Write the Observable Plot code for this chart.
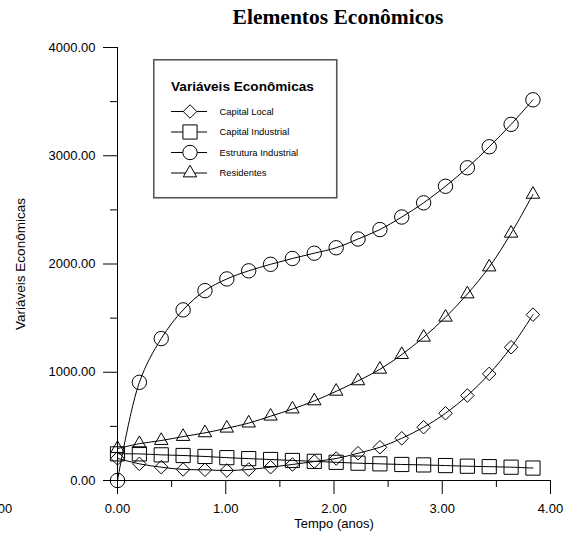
<!DOCTYPE html>
<html>
<head>
<meta charset="utf-8">
<script src="https://cdn.jsdelivr.net/npm/d3@7"></script>
<script src="https://cdn.jsdelivr.net/npm/@observablehq/plot@0.6"></script>
<style>
  body { margin: 0; background: #fff; }
  #chart { position: relative; width: 566px; height: 537px; }
  #chart svg.plot { display: block; }
  #title {
    position: absolute; left: 110px; right: 0; top: 7px;
    text-align: center; color: #000; white-space: nowrap;
    font: bold 21.5px/21.5px "Liberation Serif", "Times New Roman", serif;
  }
  #legend { position: absolute; left: 153px; top: 59px; }
</style>
</head>
<body>
<div id="chart"><div id="title"></div></div>
<script>
// Text
const chartTitle = "Elementos Econômicos";
const legendTitle = "Variáveis Econômicas";
const xLabel = "Tempo (anos)";
const yLabel = "Variáveis Econômicas";

// Series
const seriesNames = ["Capital Local", "Capital Industrial", "Estrutura Industrial", "Residentes"];
const time = [0, 0.202, 0.404, 0.606, 0.808, 1.010, 1.212, 1.414, 1.616, 1.818,
              2.020, 2.222, 2.424, 2.626, 2.828, 3.030, 3.232, 3.434, 3.636, 3.838];
const capitalLocal = [205, 154, 123, 102, 99, 92, 102, 123, 148, 175,
                      203, 252, 307, 390, 492, 621, 785, 985, 1231, 1532];
const capitalIndustrial = [246, 246, 237, 231, 222, 211, 202, 194, 185, 177,
                           168, 160, 154, 148, 144, 138, 132, 128, 123, 115];
const estruturaIndustrial = [0, 907, 1311, 1576, 1754, 1862, 1937, 1997, 2051, 2100,
                             2150, 2231, 2318, 2434, 2565, 2718, 2889, 3083, 3290, 3517];
const residentes = [295, 340, 369, 406, 440, 483, 530, 594, 660, 735,
                    824, 920, 1027, 1163, 1323, 1508, 1723, 1972, 2284, 2643];

// Ticks
const xMajorTicks = [0, 1, 2, 3, 4];
const xMinorTicks = [0.5, 1.5, 2.5, 3.5];
const xEdgeTick = -1.09;
const yMajorTicks = [0, 1000, 2000, 3000, 4000];
const yMinorTicks = [500, 1500, 2500, 3500];

// Marker shape and radius for each series
const markers = [
  {symbol: "diamond2", r: 6.1, d3type: d3.symbolDiamond2},
  {symbol: "square", r: 8.0, d3type: d3.symbolSquare},
  {symbol: "circle", r: 7.2, d3type: d3.symbolCircle},
  {symbol: "triangle2", r: 6.4, d3type: d3.symbolTriangle2}
];

const seriesValues = [capitalLocal, capitalIndustrial, estruturaIndustrial, residentes];
const rows = seriesNames.flatMap((name, k) =>
  time.map((t, i) => ({series: name, t, v: seriesValues[k][i]})));

const fmt = d3.format(".2f");
const tickFont = 13;

const marks = [
  // axis lines
  Plot.ruleX([0], {stroke: "black"}),
  Plot.ruleY([0], {stroke: "black"}),
  // y axis
  Plot.axisY(yMajorTicks, {tickSize: 14, tickPadding: 8, tickFormat: fmt, fontSize: tickFont, label: null}),
  Plot.axisY(yMinorTicks, {tickSize: 7, tickFormat: () => "", label: null}),
  // x axis
  Plot.axisX(xMajorTicks, {tickSize: 14, tickPadding: 9, tickFormat: fmt, fontSize: tickFont, label: null}),
  Plot.axisX(xMinorTicks, {tickSize: 7, tickFormat: () => "", label: null}),
  Plot.axisX([xEdgeTick], {tickSize: 0, tickPadding: 23, tickFormat: () => fmt(0), fontSize: tickFont, label: null}),
  // axis titles
  Plot.text([yLabel], {frameAnchor: "left", textAnchor: "middle", dx: -97, rotate: -90, fontSize: 13.5, fill: "black"}),
  Plot.text([xLabel], {frameAnchor: "bottom", textAnchor: "middle", dy: 47, fontSize: tickFont, fill: "black"})
];

seriesNames.forEach((name) => {
  const data = rows.filter(d => d.series === name);
  marks.push(Plot.line(data, {x: "t", y: "v", curve: "catmull-rom", stroke: "black", strokeWidth: 1}));
});
seriesNames.forEach((name, k) => {
  const data = rows.filter(d => d.series === name);
  marks.push(Plot.dot(data, {x: "t", y: "v", symbol: () => markers[k].symbol, r: markers[k].r,
                             stroke: "black", fill: "none", strokeWidth: 1}));
});

const chart = Plot.plot({
  width: 566,
  height: 537,
  marginLeft: 117,
  marginRight: 16,
  marginTop: 47,
  marginBottom: 57,
  style: {fontFamily: "'Liberation Sans', Arial, sans-serif", fontSize: "13px", color: "black", background: "white", overflow: "visible"},
  x: {domain: [0, 4], label: null},
  y: {domain: [0, 4000], label: null},
  symbol: {type: "identity"},
  marks
});

const container = document.getElementById("chart");
container.insertBefore(chart, container.firstChild);
document.getElementById("title").textContent = chartTitle;

// Legend box
const lw = 186, lh = 141;
const legend = d3.select(container).append("svg")
  .attr("id", "legend").attr("width", lw).attr("height", lh)
  .style("font-family", "'Liberation Sans', Arial, sans-serif");
legend.append("rect")
  .attr("x", 0.75).attr("y", 0.75).attr("width", lw - 3).attr("height", lh - 3)
  .attr("fill", "white").attr("stroke", "#555").attr("stroke-width", 1.6);
legend.append("text")
  .attr("x", 18).attr("y", 32).attr("font-size", 13.6).attr("font-weight", "bold")
  .text(legendTitle);
const rowY = [52.5, 73, 93.5, 114];
seriesNames.forEach((name, k) => {
  const g = legend.append("g").attr("transform", `translate(0,${rowY[k]})`);
  g.append("line").attr("x1", 18).attr("x2", 54).attr("stroke", "black");
  g.append("path")
    .attr("transform", "translate(37,0)")
    .attr("d", d3.symbol().type(markers[k].d3type).size(Math.PI * markers[k].r * markers[k].r)())
    .attr("fill", "white").attr("stroke", "black");
  g.append("text").attr("x", 66.5).attr("dy", "0.35em").attr("font-size", 9.4).text(name);
});
</script>
</body>
</html>
